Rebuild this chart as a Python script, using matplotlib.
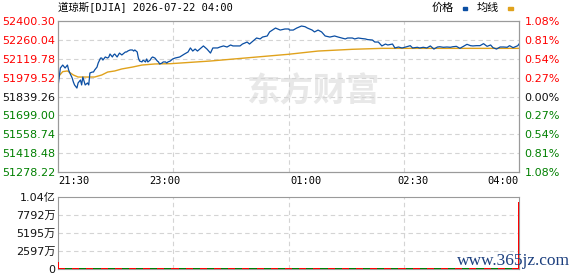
import numpy as np
import matplotlib
matplotlib.use('Agg')
import matplotlib.pyplot as plt
from matplotlib.patches import Rectangle

plt.rcParams['font.family'] = ['DejaVu Sans', 'Noto Sans CJK SC']

# price line, minutes after 21:30
price_min = [0, 2, 4, 6, 8, 9, 10, 12, 13, 14, 16, 17, 19, 20, 21, 23, 25, 26, 27, 29,
             30, 31, 33, 34, 36, 37, 38, 40, 42, 43, 44, 46, 47, 48, 50, 51, 52, 54, 55, 57,
             58, 59, 61, 63, 64, 65, 67, 68, 69, 71, 72, 74, 75, 76, 78, 79, 80, 82, 84, 85,
             86, 88, 89, 91, 92, 93, 95, 96, 97,
             99, 103, 107, 110, 112, 114, 116, 118, 123, 126, 129, 131, 135, 137, 140, 143,
             146, 148, 151, 154, 156, 160, 162, 165, 168, 171, 173, 177, 179, 184, 188, 192, 195,
             196, 199, 202, 206, 209, 211, 215, 217, 220, 223, 226, 230, 234, 237, 240, 243,
             245, 249, 251, 254, 257, 260, 262, 266, 268, 271, 274, 277, 279, 283, 285, 288, 291,
             292, 295, 298, 300, 304, 306, 309, 312, 315, 318, 321, 323, 326, 329, 332, 334,
             337, 340, 343, 346, 349, 351, 354, 357, 360, 363, 366, 368, 371, 374, 377, 380,
             382, 385, 389, 390]
price_val = [51912, 52051, 52073, 52051, 52073, 52036, 52014, 51977, 51947, 51925,
             51902, 51940, 51962, 51925, 51984, 51925, 51940, 51925, 52014, 52021,
             52021, 52036, 52058, 52088, 52125, 52125, 52110, 52133, 52125, 52133,
             52155, 52133, 52148, 52155, 52133, 52148, 52162, 52148, 52155, 52170,
             52170, 52177, 52185, 52185, 52177, 52185, 52170, 52125, 52103, 52096,
             52110, 52096, 52118, 52096, 52110, 52125, 52133, 52125, 52103, 52096,
             52081, 52088, 52096, 52096, 52088, 52096, 52103, 52110, 52118,
             52125, 52133, 52155, 52170, 52200, 52177, 52192, 52177, 52215, 52192,
             52162, 52200, 52200, 52207, 52215, 52207, 52222, 52215, 52215, 52215,
             52229, 52244, 52229, 52252, 52274, 52267, 52281, 52289, 52319, 52348,
             52333, 52341, 52341,
             52333, 52333, 52348, 52363, 52358, 52348, 52333, 52319, 52333, 52319,
             52289, 52281, 52289, 52281, 52274, 52267, 52274, 52274, 52267, 52274,
             52270, 52267, 52262, 52259, 52244, 52244, 52215, 52229, 52222, 52229,
             52200, 52207, 52200,
             52202, 52209, 52217, 52200, 52205, 52200, 52205, 52200, 52215, 52192,
             52207, 52209, 52205, 52207, 52205, 52209, 52212, 52197, 52212, 52227,
             52217, 52215, 52217, 52217, 52232, 52212, 52222, 52202, 52192, 52207,
             52207, 52205, 52217, 52202, 52217, 52229]

# average line
avg_min = [0, 4, 8, 13, 17, 31, 37, 42, 48, 54, 63, 71, 82, 95, 129, 162, 195, 220, 249, 274, 390]
avg_val = [51984, 52024, 52029, 51999, 51984, 51984, 51999, 52021, 52029, 52044, 52058,
           52073, 52081, 52083, 52103, 52128, 52153, 52177, 52190, 52197, 52197]

# volume in 万, up (1) / down (0)
vol_min = [0.5] + list(range(3, 388, 6)) + [389.5]
vol_wan = [950,
           160, 140, 170, 150, 130, 160, 140, 150, 170, 130,
           150, 140, 160, 130, 150, 140, 170, 150, 130, 160,
           140, 150, 130, 160, 150, 140, 130, 150, 160, 140,
           150, 130, 140, 160, 150, 140, 130, 150, 140, 160,
           130, 150, 140, 150, 130, 160, 140, 150, 130, 140,
           150, 160, 140, 130, 150, 140, 150, 130, 160, 140,
           150, 140, 130, 150, 140,
           9630]
vol_up = [1,
          1, 0, 1, 0, 1, 0, 1, 0, 1, 0,
          1, 0, 1, 0, 1, 0, 1, 0, 1, 0,
          1, 0, 1, 0, 1, 0, 1, 0, 1, 0,
          1, 0, 1, 0, 1, 0, 1, 0, 1, 0,
          1, 0, 1, 0, 1, 0, 1, 0, 1, 0,
          1, 0, 1, 0, 1, 0, 1, 0, 1, 0,
          1, 0, 1, 0, 1,
          1]

y_ticks = [51278.22, 51418.48, 51558.74, 51699.00, 51839.26, 51979.52, 52119.78, 52260.04, 52400.30]
y_labels = ['51278.22', '51418.48', '51558.74', '51699.00', '51839.26', '51979.52', '52119.78', '52260.04', '52400.30']
pct_labels = ['1.08%', '0.81%', '0.54%', '0.27%', '0.00%', '0.27%', '0.54%', '0.81%', '1.08%']
lab_colors = ['#008000'] * 4 + ['#111111'] + ['#ff0000'] * 4

x_ticks = [0, 90, 210, 300, 390]
x_labels = ['21:30', '23:00', '01:00', '02:30', '04:00']

vol_ticks = [0, 2597e4, 5195e4, 7792e4, 10390e4]
vol_labels = ['0', '2597万', '5195万', '7792万', '1.04亿']

blue = '#0a4ea3'
orange = '#e0a21c'
grid_c = '#d4d4d4'
spine_c = '#9a9a9a'

fig = plt.figure(figsize=(5.78, 2.76), dpi=100)
ax = fig.add_axes([58/578, 104/276, 461/578, 151/276])
axv = fig.add_axes([58/578, 7/276, 461/578, 72/276])

# main panel
ax.set_xlim(0, 390)
ax.set_ylim(y_ticks[0], y_ticks[-1])
for y in y_ticks[1:-1]:
    ax.axhline(y, color=grid_c, lw=0.8, ls=(0, (4, 3)), zorder=1)
for x in [97.5, 195, 292.5]:
    ax.axvline(x, color=grid_c, lw=0.8, ls=(0, (4, 3)), zorder=1)
ax.text(0.553, 0.53, '东方财富', transform=ax.transAxes, fontsize=24, fontweight='bold',
        color='#e8e8e8', ha='center', va='center', family='Noto Sans CJK SC', zorder=0)
ax.plot(avg_min, avg_val, color=orange, lw=1.0, zorder=3)
ax.plot(price_min, price_val, color=blue, lw=0.9, zorder=4)

ax.set_yticks(y_ticks)
ax.set_yticklabels(y_labels, fontsize=8)
for t, c in zip(ax.get_yticklabels(), lab_colors):
    t.set_color(c)
ax.set_xticks(x_ticks)
ax.set_xticklabels(x_labels, fontsize=7.5, family='DejaVu Sans Mono')
xl = ax.get_xticklabels()
xl[0].set_ha('left')
xl[-1].set_ha('right')
ax.tick_params(length=0, pad=2)
ax.tick_params(axis='x', pad=3)
for s in ax.spines.values():
    s.set_color(spine_c)

axr = ax.twinx()
axr.set_ylim(y_ticks[0], y_ticks[-1])
axr.set_yticks(y_ticks)
axr.set_yticklabels(pct_labels, fontsize=8)
for t, c in zip(axr.get_yticklabels(), lab_colors):
    t.set_color(c)
axr.tick_params(length=0, pad=4)
for s in axr.spines.values():
    s.set_color(spine_c)

# volume panel
vol = np.array(vol_wan) * 1e4
vcolors = ['#ff0000' if u else '#008000' for u in vol_up]
widths = [1.2] + [6] * (len(vol_min) - 2) + [1.2]
axv.bar(vol_min, vol, width=widths, color=vcolors, zorder=3)
axv.set_xlim(0, 390)
axv.set_ylim(0, vol_ticks[-1])
for y in vol_ticks[1:-1]:
    axv.axhline(y, color=grid_c, lw=0.8, ls=(0, (4, 3)), zorder=1)
for x in [97.5, 195, 292.5]:
    axv.axvline(x, color=grid_c, lw=0.8, ls=(0, (4, 3)), zorder=1)
axv.set_yticks(vol_ticks)
axv.set_yticklabels(vol_labels, fontsize=8, color='#111111')
axv.set_xticks([])
axv.tick_params(length=0, pad=2)
for s in axv.spines.values():
    s.set_color(spine_c)

# title and legend
fig.text(58/578, 1 - 8/276, '道琼斯[DJIA] 2026-07-22 04:00', fontsize=7.5,
         family=['DejaVu Sans Mono', 'Noto Sans CJK SC'], va='center', ha='left')
fig.text(432/578, 1 - 8/276, '价格', fontsize=8, va='center', ha='left')
fig.add_artist(Rectangle((463/578, 1 - 10/276), 4/578, 3/276, color=blue, transform=fig.transFigure))
fig.text(477/578, 1 - 8/276, '均线', fontsize=8, va='center', ha='left')
fig.add_artist(Rectangle((508/578, 1 - 10/276), 5/578, 3/276, color=orange, transform=fig.transFigure))

fig.text(570/578, 1 - 261/276, 'www.365jz.com', fontsize=12.5, family='Liberation Serif',
         color='#1c3f7e', ha='right', va='center')

fig.savefig('out.png', dpi=100)
